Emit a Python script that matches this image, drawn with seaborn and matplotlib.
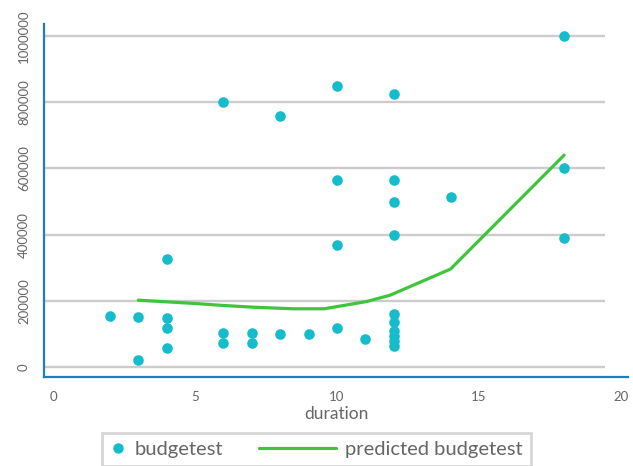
import matplotlib
matplotlib.use("Agg")
import matplotlib.pyplot as plt
import seaborn as sns
import pandas as pd
from matplotlib.legend_handler import HandlerLine2D
from matplotlib.lines import Line2D

# ---- data ----
duration = [2, 3, 3, 4, 4, 4, 4, 6, 6, 6, 7, 7, 8, 8, 9,
            10, 10, 10, 10, 11,
            12, 12, 12, 12, 12, 12, 12, 12, 12, 12,
            14, 18, 18, 18]
budgetest = [154000, 151000, 21000, 326000, 148000, 118000, 57000,
             800000, 103000, 72000, 103000, 72000, 758000, 100000, 100000,
             849000, 565000, 369000, 118000, 85000,
             825000, 565000, 498000, 399000, 160000, 135000, 110000, 95000, 80000, 65000,
             514000, 1000000, 601000, 391000]

pred_duration = [3, 4, 5, 6, 7, 8.45, 9.55, 11.05, 11.87, 14, 18]
pred_budgetest = [202000, 197000, 192000, 186000, 181000, 176000, 176000,
                  198000, 217000, 296000, 640000]

x_ticks = [0, 5, 10, 15, 20]
y_ticks = [0, 200000, 400000, 600000, 800000, 1000000]

# ---- style ----
sns.set_style("white")
plt.rcParams['font.family'] = ['Lato', 'DejaVu Sans']

SPINE = '#1f7ec2'
GRID = '#cccccc'
TXT = '#666666'
PT_COLOR = '#14bccc'
LINE_COLOR = '#3fc43c'

fig = plt.figure(figsize=(6.33, 4.66), dpi=100)
ax = fig.add_axes([44/633, 1-377/466, (628-44)/633, (377-24)/466])

xlim = (-0.32, 20.25)
ax.set_xlim(*xlim)
ax.set_ylim(-30000, 1036000)

for yt in y_ticks:
    ax.hlines(yt, xlim[0], 19.45, color=GRID, lw=1.7, zorder=0)

pts = pd.DataFrame({'duration': duration, 'budgetest': budgetest})
pred = pd.DataFrame({'duration': pred_duration, 'predicted budgetest': pred_budgetest})

sns.scatterplot(data=pts, x='duration', y='budgetest', ax=ax, color=PT_COLOR,
                s=58, linewidth=0, zorder=3, label='budgetest', legend=False)
sns.lineplot(data=pred, x='duration', y='predicted budgetest', ax=ax, color=LINE_COLOR,
             lw=2.3, sort=False, estimator=None, zorder=2, legend=False)

ax.set_xticks(x_ticks)
ax.set_yticks(y_ticks)
ax.set_yticklabels([str(v) for v in y_ticks], rotation=90, va='center')
ax.tick_params(axis='both', colors=SPINE, labelcolor=TXT, labelsize=9.5,
               length=6, width=1.5, direction='out')
ax.tick_params(axis='x', pad=4)
ax.tick_params(axis='y', pad=4)
ax.set_xlabel('duration', color=TXT, fontsize=12.5, labelpad=2)
ax.set_ylabel('')

for side in ['top', 'right']:
    ax.spines[side].set_visible(False)
for side in ['left', 'bottom']:
    ax.spines[side].set_color(SPINE)
    ax.spines[side].set_linewidth(1.6)

# ---- legend ----
class LongLineHandler(HandlerLine2D):
    def create_artists(self, legend, orig_handle, xdescent, ydescent, width, height, fontsize, trans):
        L = 56
        y = height / 2 - ydescent
        ln = Line2D([width - L, width], [y, y], color=orig_handle.get_color(),
                    lw=orig_handle.get_linewidth(), transform=trans)
        return [ln]

h_pt = Line2D([], [], marker='o', ls='', color=PT_COLOR, markersize=7.5, markeredgewidth=0)
h_ln = Line2D([], [], color=LINE_COLOR, lw=2.3)
leg = fig.legend([h_pt, h_ln], ['budgetest', 'predicted budgetest'],
                 loc='upper center', bbox_to_anchor=(0.5, 1-423/466), ncol=2,
                 frameon=True, fancybox=False, fontsize=14.5,
                 handlelength=0.8, handletextpad=0.45, columnspacing=4.8,
                 borderpad=0.4, handler_map={h_ln: LongLineHandler()})
leg.get_frame().set_edgecolor(GRID)
leg.get_frame().set_linewidth(2)
for t in leg.get_texts():
    t.set_color(TXT)

fig.savefig('out.png', dpi=100)
